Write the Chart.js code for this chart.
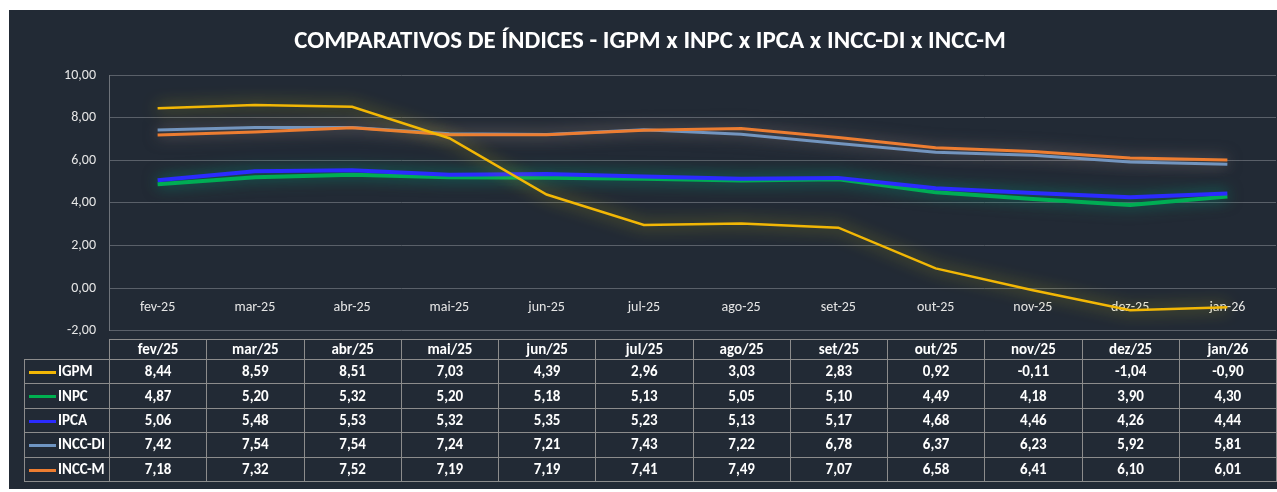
<!DOCTYPE html>
<html>
<head>
<meta charset="utf-8">
<script src="https://cdn.jsdelivr.net/npm/chart.js@4.4.1/dist/chart.umd.min.js"></script>
<style>
html, body { margin: 0; padding: 0; background: #fff; }
body { width: 1277px; height: 492px; position: relative; overflow: hidden; font-family: Carlito, Lato, sans-serif; }
#panel { position: absolute; left: 9px; top: 10px; width: 1268px; height: 479px; background: #222a35; }
#wrap { position: absolute; left: 0; top: 0; width: 1277px; height: 352px; }
#tbl { position: absolute; left: 24px; top: 339px; border-collapse: collapse; table-layout: fixed; color: #fff; font-weight: bold; font-size: 15px; }
#tbl td { border: 1px solid #8c8c8c; text-align: center; padding: 0; line-height: 1; }
#tbl td.lg { text-align: left; white-space: nowrap; }
#tbl .sw { display: inline-block; width: 27px; height: 3px; margin: 0 2px 0 4px; vertical-align: middle; }
</style>
</head>
<body>
<div id="panel"></div>
<div id="wrap"><canvas id="myChart" width="1277" height="352"></canvas></div>
<table id="tbl"></table>
<script>
const categories = ["fev-25", "mar-25", "abr-25", "mai-25", "jun-25", "jul-25", "ago-25", "set-25", "out-25", "nov-25", "dez-25", "jan-26"];
const headerLabels = ["fev/25", "mar/25", "abr/25", "mai/25", "jun/25", "jul/25", "ago/25", "set/25", "out/25", "nov/25", "dez/25", "jan/26"];
const igpm = [8.44, 8.59, 8.51, 7.03, 4.39, 2.96, 3.03, 2.83, 0.92, -0.11, -1.04, -0.90];
const inpc = [4.87, 5.20, 5.32, 5.20, 5.18, 5.13, 5.05, 5.10, 4.49, 4.18, 3.90, 4.30];
const ipca = [5.06, 5.48, 5.53, 5.32, 5.35, 5.23, 5.13, 5.17, 4.68, 4.46, 4.26, 4.44];
const inccDi = [7.42, 7.54, 7.54, 7.24, 7.21, 7.43, 7.22, 6.78, 6.37, 6.23, 5.92, 5.81];
const inccM = [7.18, 7.32, 7.52, 7.19, 7.19, 7.41, 7.49, 7.07, 6.58, 6.41, 6.10, 6.01];
const yMin = -2, yMax = 10, yStep = 2;

const fmt = (v) => v.toFixed(2).replace(".", ",");
const FONT = "Carlito, Lato, sans-serif";

const series = [
    { label: "IGPM", data: igpm, color: "#f2b705", glow: "rgba(215,200,20,0.8)", width: 2.5 },
    { label: "INPC", data: inpc, color: "#00b050", glow: "rgba(0,160,120,0.7)", width: 4 },
    { label: "IPCA", data: ipca, color: "#2b2bff", glow: "rgba(0,150,130,0.6)", width: 4 },
    { label: "INCC-DI", data: inccDi, color: "#6f95c2", glow: "rgba(190,170,160,0.5)", width: 3 },
    { label: "INCC-M", data: inccM, color: "#ed7d31", glow: "rgba(190,160,150,0.5)", width: 3 },
];

// brilho em volta das linhas
const glowPlugin = {
    id: "glow",
    beforeDatasetDraw(chart, args) {
        const ctx = chart.ctx;
        ctx.save();
        ctx.shadowColor = series[args.index].glow;
        ctx.shadowBlur = 16;
    },
    afterDatasetDraw(chart) {
        chart.ctx.restore();
    },
};

const ctx = document.getElementById("myChart").getContext("2d");
const myChart = new Chart(ctx, {
    type: "line",
    data: {
        labels: categories,
        datasets: series.map((s, i) => ({
            label: s.label,
            data: s.data,
            borderColor: s.color,
            backgroundColor: s.color,
            borderWidth: s.width,
            pointRadius: 0,
            tension: 0,
            order: [1, 3, 2, 5, 4][i],
        })),
    },
    options: {
        responsive: false,
        animation: false,
        layout: { padding: { top: 0, left: 24, right: 1, bottom: 10 } },
        plugins: {
            legend: { display: false },
            tooltip: { enabled: false },
            title: {
                display: true,
                text: "COMPARATIVOS DE ÍNDICES - IGPM x INPC x IPCA x INCC-DI x INCC-M",
                color: "#ffffff",
                font: { family: FONT, size: 25, weight: "bold" },
                padding: { top: 27, bottom: 18 },
            },
        },
        scales: {
            x: {
                type: "category",
                offset: true,
                position: { y: 0 },
                grid: { display: false, drawTicks: false },
                border: { display: false },
                ticks: { color: "#e6e6e6", font: { family: FONT, size: 14 }, padding: 11, maxRotation: 0, autoSkip: false },
            },
            y: {
                min: yMin,
                max: yMax,
                afterFit: (s) => { s.width = 85; },
                grid: { color: "#5a6069", lineWidth: 1, drawTicks: false },
                border: { display: true, color: "#6e737a" },
                ticks: { stepSize: yStep, color: "#e6e6e6", font: { family: FONT, size: 14 }, padding: 13, callback: (v) => fmt(v) },
            },
        },
    },
    plugins: [glowPlugin],
});

// tabela de dados alinhada com as colunas do gráfico
const area = myChart.chartArea;
const colW = (area.right - area.left) / categories.length;
const tbl = document.getElementById("tbl");
let html = "<colgroup><col style='width:" + (area.left - 24) + "px'>";
categories.forEach(() => { html += "<col style='width:" + colW + "px'>"; });
html += "</colgroup>";
html += "<tr style='height:20px'><td style='border-left:none;border-top:none'></td>";
headerLabels.forEach((h) => { html += "<td>" + h + "</td>"; });
html += "</tr>";
series.forEach((s) => {
    html += "<tr style='height:24.4px'><td class='lg'><span class='sw' style='background:" + s.color + "'></span>" + s.label + "</td>";
    s.data.forEach((v) => { html += "<td>" + fmt(v) + "</td>"; });
    html += "</tr>";
});
tbl.style.width = (area.right - 24) + "px";
tbl.innerHTML = html;
</script>
</body>
</html>
